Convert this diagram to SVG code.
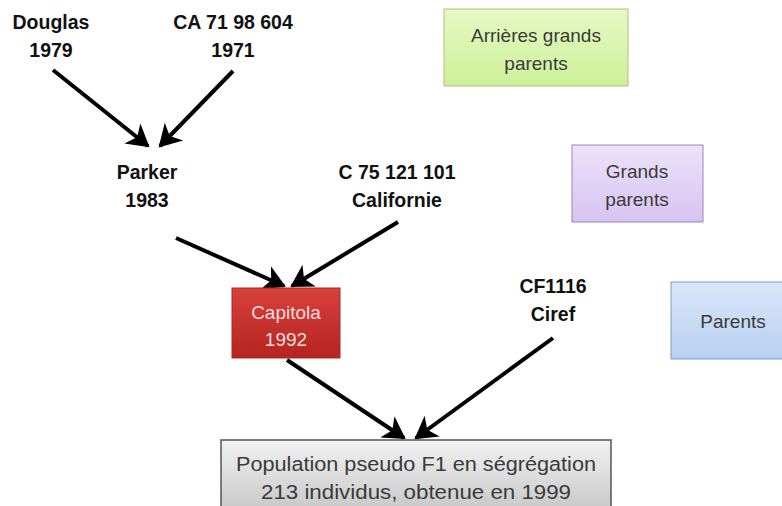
<svg xmlns="http://www.w3.org/2000/svg" width="782" height="506" viewBox="0 0 782 506">
<style>
.lbl{font-family:"Liberation Sans",Arial,sans-serif;font-weight:bold;font-size:19.5px;fill:#111;text-anchor:middle}
.leg{font-family:"Liberation Sans",Arial,sans-serif;font-size:19px;fill:#3a3a3a;text-anchor:middle}
.con{stroke:#000;stroke-width:4;fill:none;marker-end:url(#ah)}
</style>
<defs>
<marker id="ah" markerWidth="7" markerHeight="7" refX="5" refY="3.5" orient="auto" markerUnits="strokeWidth">
<path d="M0,0.3 L5.5,3.5 L0,6.7 L1.5,3.5 Z" fill="#000"/>
</marker>
<linearGradient id="gGreen" x1="0" y1="0" x2="0" y2="1"><stop offset="0" stop-color="#e6f9c4"/><stop offset="1" stop-color="#cdf09a"/></linearGradient>
<linearGradient id="gPurple" x1="0" y1="0" x2="0" y2="1"><stop offset="0" stop-color="#ece2fa"/><stop offset="1" stop-color="#d7c3f0"/></linearGradient>
<linearGradient id="gBlue" x1="0" y1="0" x2="0" y2="1"><stop offset="0" stop-color="#dbe7f8"/><stop offset="1" stop-color="#b7cff0"/></linearGradient>
<linearGradient id="gRed" x1="0" y1="0" x2="0" y2="1"><stop offset="0" stop-color="#d9403c"/><stop offset="1" stop-color="#b52420"/></linearGradient>
<linearGradient id="gGray" x1="0" y1="0" x2="0" y2="1"><stop offset="0" stop-color="#f2f2f2"/><stop offset="1" stop-color="#c8c8c8"/></linearGradient>
</defs>

<g id="connectors">
<line class="con" x1="53" y1="70" x2="148" y2="146"/>
<line class="con" x1="233" y1="71" x2="160" y2="146"/>
<line class="con" x1="176" y1="238" x2="284" y2="286"/>
<line class="con" x1="398" y1="222" x2="292" y2="286"/>
<line class="con" x1="287" y1="360" x2="404" y2="438"/>
<line class="con" x1="553" y1="338" x2="416" y2="438"/>
</g>

<g id="douglas"><text class="lbl" x="51" y="29">Douglas</text><text class="lbl" x="51" y="57">1979</text></g>
<g id="ca71"><text class="lbl" x="233" y="29">CA 71 98 604</text><text class="lbl" x="233" y="57">1971</text></g>
<g id="parker"><text class="lbl" x="147" y="179">Parker</text><text class="lbl" x="147" y="207">1983</text></g>
<g id="c75"><text class="lbl" x="397" y="179">C 75 121 101</text><text class="lbl" x="397" y="207">Californie</text></g>
<g id="cf1116"><text class="lbl" x="553" y="293">CF1116</text><text class="lbl" x="553" y="321">Ciref</text></g>

<g id="capitola">
<rect x="232" y="288" width="108" height="70" fill="url(#gRed)" stroke="#a82a26" stroke-width="1"/>
<text class="leg" x="286" y="319" style="fill:#f3dede">Capitola</text>
<text class="leg" x="286" y="346" style="fill:#f3dede">1992</text>
</g>

<g id="population">
<rect x="221" y="440" width="390" height="70" fill="url(#gGray)" stroke="#555" stroke-width="1.5"/>
<text class="leg" x="416" y="471" style="font-size:20px" textLength="360" lengthAdjust="spacingAndGlyphs">Population pseudo F1 en ségrégation</text>
<text class="leg" x="416" y="499" style="font-size:20px" textLength="310" lengthAdjust="spacingAndGlyphs">213 individus, obtenue en 1999</text>
</g>

<g id="legend-arrieres">
<rect x="444" y="9" width="184" height="77" fill="url(#gGreen)" stroke="#a9c77a" stroke-width="1"/>
<text class="leg" x="536" y="42">Arrières grands</text>
<text class="leg" x="536" y="70">parents</text>
</g>
<g id="legend-grands">
<rect x="572" y="145" width="131" height="77" fill="url(#gPurple)" stroke="#9d86b8" stroke-width="1"/>
<text class="leg" x="637" y="178">Grands</text>
<text class="leg" x="637" y="206">parents</text>
</g>
<g id="legend-parents">
<rect x="671" y="282" width="115" height="77" fill="url(#gBlue)" stroke="#7d9cc7" stroke-width="1"/>
<text class="leg" x="733" y="328">Parents</text>
</g>
</svg>
